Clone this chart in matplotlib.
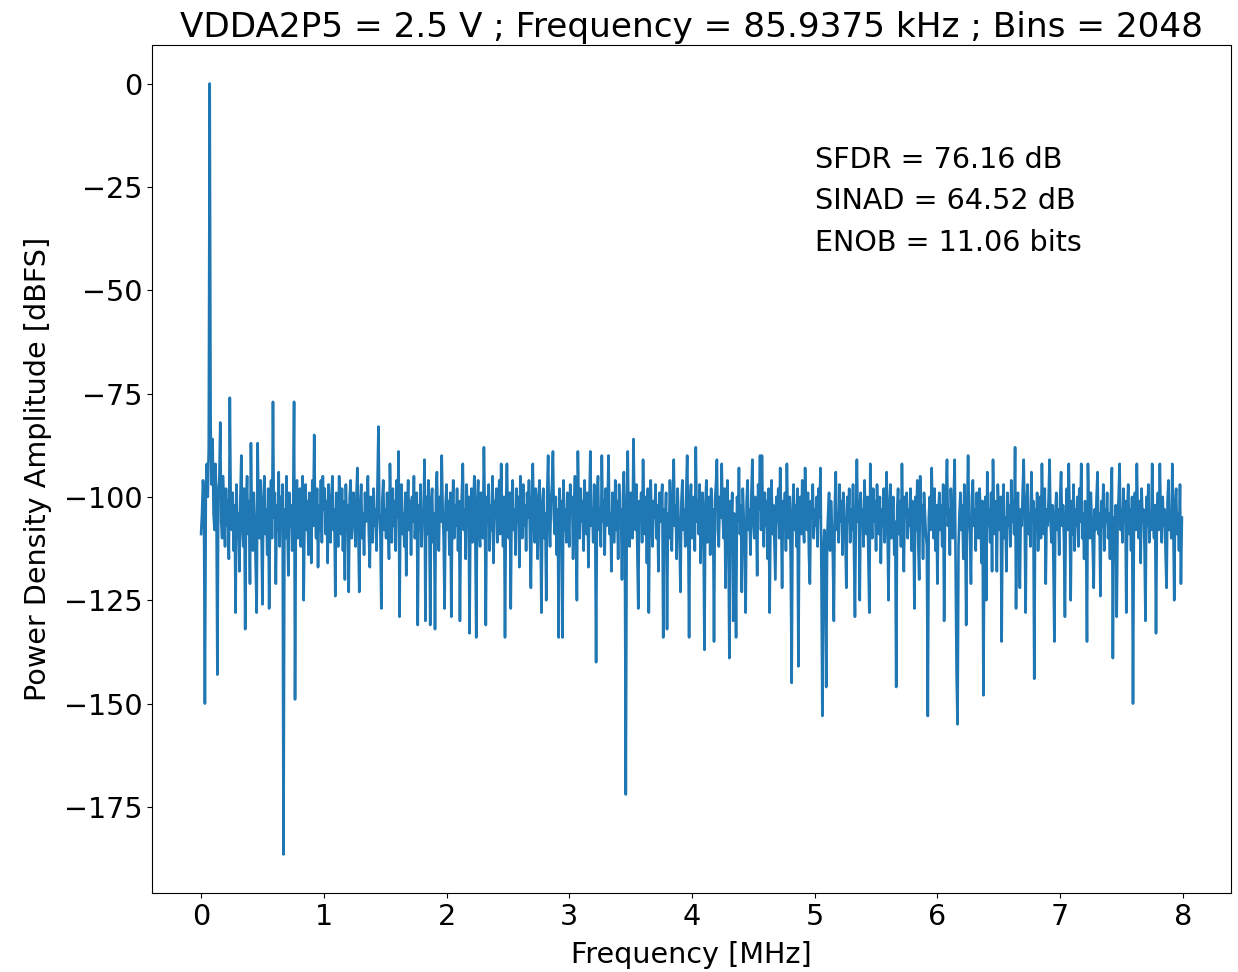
#!/usr/bin/env python3
# FFT spectrum of the ADC capture, VDDA2P5 = 2.5 V, 2048 bins (one-sided, 1024 points)
import numpy as np
import matplotlib
matplotlib.use("Agg")
import matplotlib.pyplot as plt

plt.rcParams["font.size"] = 20.6

fs_mhz = 16.0
n_bins = 2048

# power density per bin [dBFS]
psd_db = [
    -109, -104, -96, -101, -150, -98, -92, -100, -88, 0, -83, -97, -86, -104, -108, -92,
    -101, -143, -99, -96, -82, -106, -110, -95, -104, -112, -98, -107, -101, -115, -76, -103,
    -108, -99, -113, -102, -128, -97, -110, -104, -118, -100, -90, -107, -112, -98, -132, -103,
    -95, -109, -101, -121, -87, -105, -113, -99, -106, -117, -128, -87, -104, -110, -96, -108,
    -126, -101, -95, -109, -103, -114, -98, -127, -104, -96, -110, -77, -105, -99, -121, -102,
    -108, -94, -112, -100, -106, -97, -186.5, -103, -110, -95, -105, -119, -99, -107, -102, -113,
    -104, -77, -149, -101, -96, -110, -103, -98, -112, -100, -95, -125, -104, -97, -108, -101,
    -114, -99, -105, -116, -96, -107, -85, -103, -110, -98, -117, -102, -108, -96, -111, -95,
    -103, -98, -109, -101, -116, -97, -106, -111, -100, -95, -108, -103, -124, -99, -105, -112,
    -95, -104, -109, -98, -113, -101, -120, -97, -107, -102, -123, -100, -96, -110, -104, -99,
    -106, -112, -100, -93, -108, -123, -102, -97, -110, -104, -114, -99, -106, -101, -95, -109,
    -117, -100, -105, -111, -98, -107, -103, -113, -97, -83, -104, -109, -127, -101, -96, -108,
    -103, -110, -99, -106, -115, -92, -104, -111, -98, -107, -101, -113, -96, -105, -89, -129,
    -102, -97, -109, -104, -112, -99, -119, -103, -96, -108, -101, -114, -100, -106, -95, -110,
    -104, -99, -131, -102, -108, -97, -112, -103, -106, -91, -130, -100, -109, -96, -105, -131,
    -101, -98, -111, -104, -132, -99, -94, -107, -113, -100, -106, -90, -103, -110, -127, -102,
    -97, -108, -101, -114, -99, -129, -104, -96, -110, -102, -107, -98, -113, -101, -130, -105,
    -99, -92, -108, -103, -115, -97, -106, -100, -133, -104, -98, -111, -102, -95, -109, -134,
    -101, -96, -107, -112, -99, -104, -110, -88, -103, -131, -100, -106, -97, -113, -102, -108,
    -95, -116, -101, -105, -98, -111, -103, -96, -109, -92, -104, -112, -100, -134, -103, -92,
    -105, -110, -99, -127, -101, -96, -108, -103, -114, -98, -106, -100, -117, -95, -104, -110,
    -97, -107, -102, -113, -99, -105, -96, -109, -122, -101, -92, -106, -111, -98, -104, -115,
    -100, -96, -107, -128, -102, -98, -110, -104, -125, -99, -90, -106, -112, -101, -97, -89,
    -105, -109, -100, -114, -103, -134, -98, -107, -101, -134, -96, -108, -103, -111, -99, -105,
    -112, -97, -104, -100, -115, -102, -95, -108, -125, -89, -103, -110, -98, -106, -101, -113,
    -96, -105, -109, -99, -117, -102, -89, -107, -103, -111, -97, -104, -140, -100, -95, -108,
    -103, -112, -90, -106, -101, -114, -98, -107, -102, -90, -109, -104, -118, -99, -105, -111,
    -96, -108, -101, -115, -97, -106, -103, -120, -100, -94, -109, -172, -104, -89, -107, -112,
    -99, -105, -110, -86, -102, -108, -97, -113, -127, -101, -106, -99, -111, -91, -104, -109,
    -100, -116, -98, -128, -103, -96, -107, -112, -101, -105, -97, -110, -102, -118, -99, -106,
    -101, -97, -134, -103, -108, -99, -132, -104, -110, -96, -106, -113, -100, -91, -107, -102,
    -115, -98, -105, -109, -123, -101, -96, -108, -103, -112, -99, -90, -105, -134, -102, -97,
    -110, -104, -100, -113, -88, -106, -101, -109, -97, -116, -103, -99, -108, -137, -102, -96,
    -111, -104, -100, -114, -98, -107, -103, -135, -101, -97, -91, -108, -112, -100, -105, -92,
    -104, -110, -98, -122, -103, -96, -109, -139, -101, -107, -99, -130, -104, -112, -134, -100,
    -106, -93, -109, -102, -123, -98, -105, -111, -128, -101, -96, -108, -103, -114, -99, -91,
    -106, -110, -100, -104, -119, -97, -103, -90, -108, -90, -105, -112, -99, -107, -101, -115,
    -98, -128, -104, -96, -109, -102, -111, -120, -100, -106, -98, -110, -93, -104, -122, -101,
    -107, -99, -113, -92, -105, -110, -100, -116, -145, -103, -97, -108, -102, -112, -98, -141,
    -104, -100, -109, -96, -106, -111, -93, -103, -108, -99, -114, -121, -101, -105, -97, -110,
    -103, -107, -100, -112, -98, -105, -93, -118, -153, -114, -108, -120, -146, -110, -104, -99,
    -113, -101, -107, -115, -130, -102, -94, -108, -104, -111, -97, -106, -101, -114, -99, -105,
    -110, -122, -100, -106, -98, -111, -103, -108, -97, -113, -129, -104, -91, -106, -101, -125,
    -99, -107, -103, -112, -96, -105, -109, -100, -115, -128, -92, -104, -110, -98, -106, -101,
    -113, -97, -105, -109, -100, -116, -103, -107, -98, -111, -104, -94, -108, -125, -102, -97,
    -110, -105, -100, -114, -106, -146, -103, -98, -109, -101, -112, -92, -106, -118, -100, -104,
    -99, -110, -103, -107, -98, -113, -101, -105, -127, -100, -108, -96, -111, -120, -95, -106,
    -102, -115, -99, -104, -109, -112, -153, -105, -100, -108, -93, -104, -110, -98, -113, -102,
    -121, -104, -99, -108, -102, -112, -97, -130, -105, -100, -91, -107, -103, -114, -98, -106,
    -110, -101, -91, -118, -143, -155, -112, -104, -99, -108, -102, -115, -97, -106, -131, -103,
    -90, -105, -109, -121, -100, -96, -107, -103, -113, -99, -105, -110, -98, -104, -116, -101,
    -148, -106, -100, -125, -94, -107, -103, -111, -99, -118, -91, -105, -109, -101, -118, -97,
    -104, -108, -100, -135, -103, -97, -110, -105, -118, -99, -107, -102, -112, -96, -106, -101,
    -109, -88, -127, -104, -99, -111, -122, -103, -107, -98, -91, -105, -128, -102, -97, -109,
    -104, -112, -94, -106, -101, -144, -103, -108, -99, -113, -105, -100, -110, -92, -104, -109,
    -98, -121, -103, -107, -100, -91, -106, -111, -102, -116, -135, -104, -99, -108, -103, -114,
    -100, -94, -107, -102, -111, -129, -104, -98, -108, -92, -105, -125, -101, -109, -97, -113,
    -103, -107, -100, -112, -98, -106, -92, -110, -104, -115, -101, -108, -135, -92, -105, -110,
    -99, -106, -112, -122, -103, -108, -100, -94, -109, -104, -124, -101, -107, -97, -113, -103,
    -106, -99, -110, -104, -115, -100, -93, -139, -105, -109, -102, -129, -106, -100, -92, -108,
    -103, -111, -98, -106, -101, -128, -104, -97, -109, -103, -113, -100, -150, -105, -99, -108,
    -92, -104, -110, -101, -116, -98, -106, -103, -112, -130, -100, -107, -97, -111, -104, -108,
    -92, -106, -110, -102, -133, -104, -99, -108, -92, -105, -111, -100, -107, -103, -114, -122,
    -101, -96, -108, -104, -110, -92, -106, -125, -102, -98, -109, -104, -113, -97, -121, -105,
]

freq_mhz = np.arange(len(psd_db)) * fs_mhz / n_bins

sfdr_db = 76.16
sinad_db = 64.52
enob_bits = 11.06

fig = plt.figure(figsize=(12.38, 9.72), dpi=100)
ax = fig.add_axes([0.1228, 0.0813, 0.8715, 0.8724])
ax.plot(freq_mhz, psd_db, linewidth=1.9)
ax.set_xlabel("Frequency [MHz]", labelpad=7.5)
ax.set_ylabel("Power Density Amplitude [dBFS]", labelpad=8.5)
ax.set_title("VDDA2P5 = 2.5 V ; Frequency = 85.9375 kHz ; Bins = 2048", fontsize=24.7)
ax.text(5, -40.5, "SFDR = %.2f dB\nSINAD = %.2f dB\nENOB = %.2f bits" % (sfdr_db, sinad_db, enob_bits),
        linespacing=1.62)
#plt.show()
fig.savefig("out.png", dpi=100)
